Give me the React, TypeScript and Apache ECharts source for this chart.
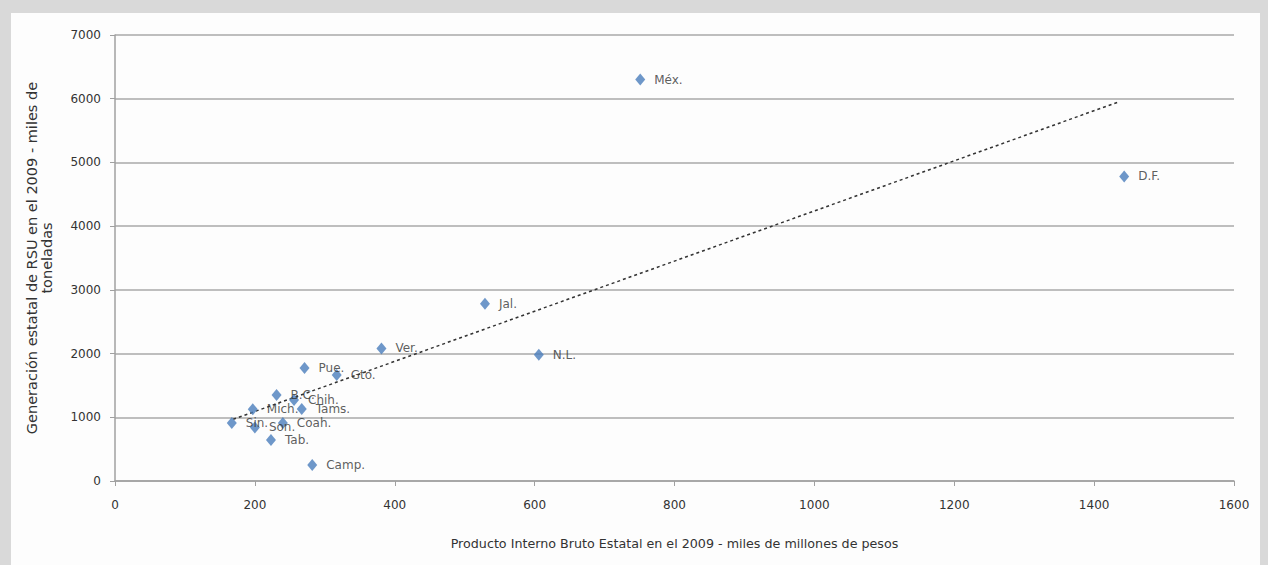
import React, { useEffect, useRef } from "react";
import * as echarts from "echarts";

const states = ["Méx.", "D.F.", "Jal.", "N.L.", "Ver.", "Pue.", "Gto.", "B.C.", "Chih.", "Tams.", "Mich.", "Sin.", "Son.", "Coah.", "Tab.", "Camp."];
const pib = [751, 1443, 529, 606, 381, 271, 317, 231, 256, 267, 197, 167, 200, 240, 223, 282];
const rsu = [6300, 4780, 2780, 1980, 2080, 1775, 1665, 1350, 1270, 1130, 1125, 910, 840, 910, 645, 250];
const trendX = [169, 1436];
const trendY = [969, 5954];
const xTicks = [0, 200, 400, 600, 800, 1000, 1200, 1400, 1600];
const yTicks = [0, 1000, 2000, 3000, 4000, 5000, 6000, 7000];
const xTitle = "Producto Interno Bruto Estatal en el 2009 - miles de millones de pesos";
const yTitle = ["Generación estatal de RSU en el 2009 - miles de", "toneladas"];

const FONT = "DejaVu Sans";

export default function App() {
  const ref = useRef<HTMLDivElement>(null);
  useEffect(() => {
    if (!ref.current) return;
    const chart = echarts.init(ref.current, null, { renderer: "svg" });
    const points = states.map((s, i) => ({ name: s, value: [pib[i], rsu[i]] }));
    const gridLeft = 104, gridTop = 22, gridRight = 26, gridBottom = 84;
    const W = 1249, H = 552;
    chart.setOption({
      animation: false,
      backgroundColor: "#fdfdfd",
      grid: { left: gridLeft, top: gridTop, right: gridRight, bottom: gridBottom },
      xAxis: {
        type: "value",
        min: xTicks[0],
        max: xTicks[xTicks.length - 1],
        interval: 200,
        axisLine: { show: true, lineStyle: { color: "#a0a0a0", width: 1.5 } },
        axisTick: { show: true, length: 5, lineStyle: { color: "#a0a0a0" } },
        splitLine: { show: false },
        axisLabel: { margin: 18, color: "#333", fontFamily: FONT, fontSize: 12, formatter: (v: number) => String(v) },
      },
      yAxis: {
        type: "value",
        min: yTicks[0],
        max: yTicks[yTicks.length - 1],
        interval: 1000,
        axisLine: { show: true, lineStyle: { color: "#a0a0a0", width: 1.5 } },
        axisTick: { show: true, length: 5, lineStyle: { color: "#a0a0a0" } },
        splitLine: { show: true, lineStyle: { color: "#a8a8a8", width: 1.6 } },
        axisLabel: { margin: 14, color: "#333", fontFamily: FONT, fontSize: 12, formatter: (v: number) => String(v) },
      },
      series: [
        {
          type: "line",
          data: trendX.map((x, i) => [x, trendY[i]]),
          symbol: "none",
          lineStyle: { color: "#333", width: 1.5, type: [3, 3] },
          z: 1,
          silent: true,
        },
        {
          type: "scatter",
          data: points,
          symbol: "diamond",
          symbolSize: [10, 12],
          itemStyle: { color: "#4a7dbb" },
          z: 3,
          label: {
            show: true,
            position: "right",
            distance: 9,
            formatter: "{b}",
            color: "#333",
            fontFamily: FONT,
            fontSize: 12,
          },
        },
      ],
      graphic: [
        {
          type: "text",
          x: gridLeft + (W - gridLeft - gridRight) / 2,
          y: 530,
          style: {
            text: xTitle,
            fill: "#333",
            font: `12.7px "${FONT}"`,
            textAlign: "center",
            textVerticalAlign: "middle",
          },
        },
        {
          type: "text",
          x: 28,
          y: gridTop + (H - gridTop - gridBottom) / 2,
          rotation: Math.PI / 2,
          style: {
            text: yTitle.join("\n"),
            fill: "#333",
            font: `14.5px "${FONT}"`,
            lineHeight: 15,
            textAlign: "center",
            textVerticalAlign: "middle",
          },
        },
      ],
    });
    return () => chart.dispose();
  }, []);
  return (
    <div style={{ position: "absolute", left: 0, top: 0, width: 1268, height: 565, background: "#d9d9d9" }}>
      <div ref={ref} style={{ position: "absolute", left: 11, top: 13, width: 1249, height: 552 }} />
    </div>
  );
}
